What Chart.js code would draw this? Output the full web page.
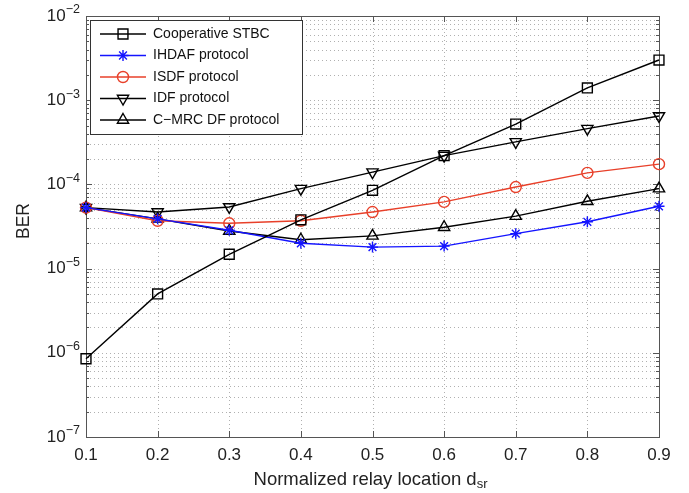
<!DOCTYPE html>
<html>
<head>
<meta charset="utf-8">
<script src="https://cdn.jsdelivr.net/npm/chart.js@4/dist/chart.umd.min.js"></script>
<style>
  html, body { margin: 0; padding: 0; background: #fff; }
  #wrap { width: 689px; height: 493px; position: relative; }
</style>
</head>
<body>
<div id="wrap"><canvas id="ber"></canvas></div>
<script>
// relay positions (x) and BER per scheme
const relayLocations = [0.1, 0.2, 0.3, 0.4, 0.5, 0.6, 0.7, 0.8, 0.9];
const berCoopStbc = [8.5e-7, 5.0e-6, 1.48e-5, 3.8e-5, 8.5e-5, 2.2e-4, 5.2e-4, 1.4e-3, 3.0e-3];
const berIhdaf    = [5.3e-5, 3.9e-5, 2.85e-5, 2.0e-5, 1.8e-5, 1.85e-5, 2.6e-5, 3.6e-5, 5.5e-5];
const berIsdf     = [5.3e-5, 3.7e-5, 3.45e-5, 3.7e-5, 4.7e-5, 6.2e-5, 9.3e-5, 1.37e-4, 1.74e-4];
const berIdf      = [5.3e-5, 4.7e-5, 5.4e-5, 8.9e-5, 1.4e-4, 2.2e-4, 3.2e-4, 4.6e-4, 6.5e-4];
const berCmrc     = [5.3e-5, 3.9e-5, 2.8e-5, 2.2e-5, 2.45e-5, 3.1e-5, 4.2e-5, 6.3e-5, 8.9e-5];

const seriesNames = ['Cooperative STBC', 'IHDAF protocol', 'ISDF protocol', 'IDF protocol', 'C\u2212MRC DF protocol'];

// tick labels
const xTickLabels = ['0.1', '0.2', '0.3', '0.4', '0.5', '0.6', '0.7', '0.8', '0.9'];
const yTickExponents = [-7, -6, -5, -4, -3, -2];

const FONT = '"Liberation Sans", Arial, sans-serif';
const RED = '#e8402a';
const BLUE = '#1414ff';

function series(label, data, color, style, radius, rotation){
  return {
    label,
    data: relayLocations.map((x,i)=>({x, y:data[i]})),
    borderColor: color,
    borderWidth: 1.4,
    pointStyle: style,
    rotation: rotation||0,
    pointRadius: radius,
    pointBorderWidth: 1.4,
    pointBorderColor: color,
    pointBackgroundColor: 'rgba(0,0,0,0)',
    tension: 0,
    clip: false
  };
}

const datasets = [
  series(seriesNames[0], berCoopStbc, '#000', 'rect', 7),
  series(seriesNames[1], berIhdaf, BLUE, 'star', 5.5),
  series(seriesNames[2], berIsdf, RED, 'circle', 5.5),
  series(seriesNames[3], berIdf, '#000', 'triangle', 6.5, 180),
  series(seriesNames[4], berCmrc, '#000', 'triangle', 6.5)
];

// dotted grid, box, inward ticks and tick labels
const axesPlugin = {
  id: 'axesPlugin',
  beforeDatasetsDraw(chart){
    const {ctx, chartArea:a, scales:{x, y}} = chart;
    ctx.save();
    ctx.lineWidth = 1;
    ctx.strokeStyle = '#b0b0b0';
    ctx.setLineDash([1, 3]);
    relayLocations.forEach(v=>{
      const px = Math.round(x.getPixelForValue(v)) + 0.5;
      ctx.beginPath(); ctx.moveTo(px, a.top); ctx.lineTo(px, a.bottom); ctx.stroke();
    });
    for(let e=-7; e<-2; e++){
      for(let k=1; k<10; k++){
        const py = Math.round(y.getPixelForValue(k*Math.pow(10,e))) + 0.5;
        ctx.beginPath(); ctx.moveTo(a.left, py); ctx.lineTo(a.right, py); ctx.stroke();
      }
    }
    ctx.setLineDash([]);

    // tick marks
    ctx.strokeStyle = '#555';
    relayLocations.forEach(v=>{
      const px = Math.round(x.getPixelForValue(v)) + 0.5;
      ctx.beginPath();
      ctx.moveTo(px, a.bottom); ctx.lineTo(px, a.bottom-6);
      ctx.moveTo(px, a.top); ctx.lineTo(px, a.top+6);
      ctx.stroke();
    });
    for(let e=-7; e<-2; e++){
      for(let k=1; k<10; k++){
        const len = k===1 ? 6 : 3;
        const py = Math.round(y.getPixelForValue(k*Math.pow(10,e))) + 0.5;
        ctx.beginPath();
        ctx.moveTo(a.left, py); ctx.lineTo(a.left+len, py);
        ctx.moveTo(a.right, py); ctx.lineTo(a.right-len, py);
        ctx.stroke();
      }
    }

    // box
    ctx.strokeRect(Math.round(a.left)+0.5, Math.round(a.top)+0.5, Math.round(a.right-a.left), Math.round(a.bottom-a.top));

    // x tick labels
    ctx.fillStyle = '#222';
    ctx.font = '17px ' + FONT;
    ctx.textAlign = 'center';
    ctx.textBaseline = 'middle';
    xTickLabels.forEach((t,i)=>{
      ctx.fillText(t, x.getPixelForValue(relayLocations[i]), a.bottom + 18);
    });

    // y tick labels 10^e
    yTickExponents.forEach(e=>{
      const py = y.getPixelForValue(Math.pow(10,e));
      ctx.font = '12.5px ' + FONT;
      const exp = '\u2212' + Math.abs(e);
      const ew = ctx.measureText(exp).width;
      ctx.textAlign = 'left';
      ctx.textBaseline = 'middle';
      ctx.fillText(exp, a.left - 6 - ew, py - 6);
      ctx.font = '17px ' + FONT;
      ctx.textAlign = 'right';
      ctx.fillText('10', a.left - 6 - ew, py);
    });

    // axis titles
    const main = 'Normalized relay location d';
    ctx.textBaseline = 'alphabetic';
    ctx.font = '13px ' + FONT;
    const subW = ctx.measureText('sr').width;
    ctx.font = '18.5px ' + FONT;
    const mainW = ctx.measureText(main).width;
    const cx = (a.left + a.right) / 2 - 2;
    const sx = cx - (mainW + subW) / 2;
    ctx.textAlign = 'left';
    ctx.fillText(main, sx, a.bottom + 48);
    ctx.font = '13px ' + FONT;
    ctx.fillText('sr', sx + mainW, a.bottom + 51);

    ctx.font = '17.5px ' + FONT;
    ctx.textBaseline = 'middle';
    ctx.translate(24, 221);
    ctx.rotate(-Math.PI/2);
    ctx.textAlign = 'center';
    ctx.fillText('BER', 0, 0);
    ctx.restore();
  },
  afterDatasetsDraw(chart){
    const {ctx, chartArea:a} = chart;
    const bx = a.left + 4, by = a.top + 4, bw = 212, bh = 114;
    ctx.save();
    ctx.fillStyle = '#fff';
    ctx.fillRect(bx, by, bw, bh);
    ctx.strokeStyle = '#333';
    ctx.lineWidth = 1;
    ctx.strokeRect(bx + 0.5, by + 0.5, bw, bh);
    chart.data.datasets.forEach((ds, i)=>{
      const ry = by + 14 + i * 21.5;
      ctx.strokeStyle = ds.borderColor;
      ctx.lineWidth = ds.borderWidth;
      ctx.beginPath(); ctx.moveTo(bx + 10, ry); ctx.lineTo(bx + 56, ry); ctx.stroke();
      ctx.fillStyle = 'rgba(0,0,0,0)';
      Chart.helpers.drawPoint(ctx, {
        pointStyle: ds.pointStyle, radius: ds.pointRadius, rotation: ds.rotation,
        borderWidth: ds.pointBorderWidth
      }, bx + 33, ry);
      ctx.fillStyle = '#111';
      ctx.font = '14px ' + FONT;
      ctx.textAlign = 'left';
      ctx.textBaseline = 'middle';
      ctx.fillText(ds.label, bx + 63, ry);
    });
    ctx.restore();
  }
};

new Chart(document.getElementById('ber'), {
  type: 'line',
  data: { datasets },
  options: {
    responsive: true,
    maintainAspectRatio: false,
    animation: false,
    layout: { padding: { left: 86, top: 16, right: 30, bottom: 56 } },
    plugins: { legend: { display: false }, tooltip: { enabled: false } },
    scales: {
      x: { type: 'linear', min: 0.1, max: 0.9, display: false },
      y: { type: 'logarithmic', min: 1e-7, max: 1e-2, display: false }
    }
  },
  plugins: [axesPlugin]
});
</script>
</body>
</html>
